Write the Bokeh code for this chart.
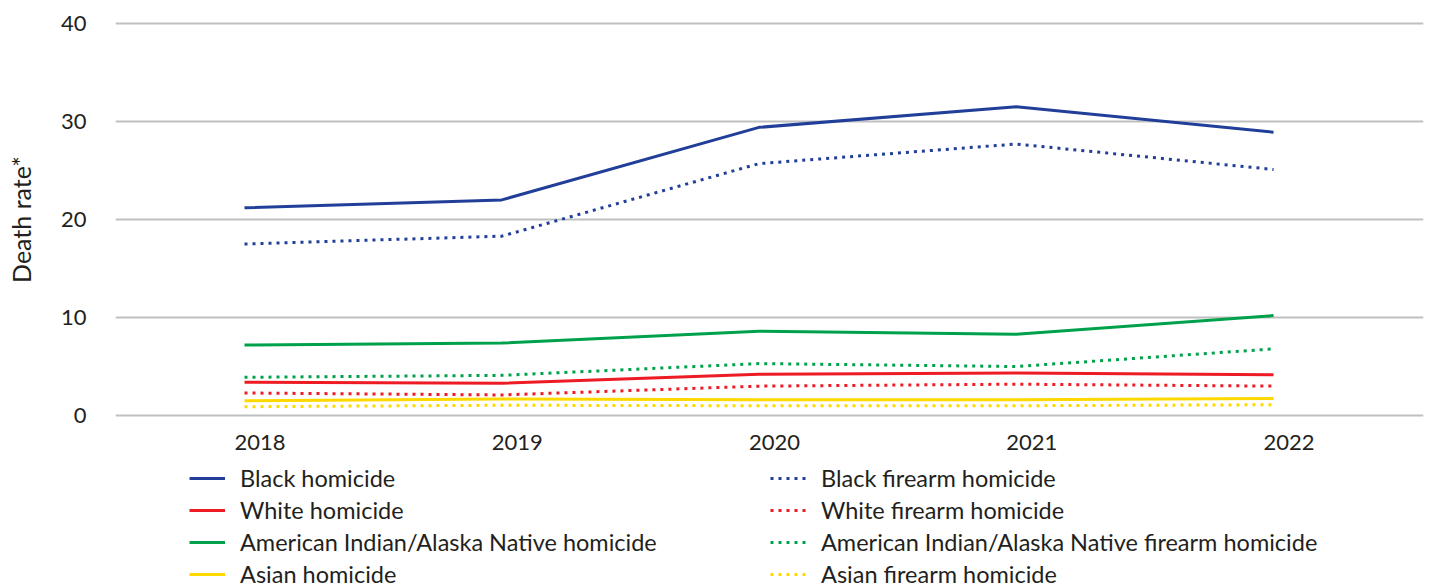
from bokeh.plotting import figure
from bokeh.models import Range1d, FixedTicker, Legend, LegendItem
from bokeh.layouts import column
from bokeh.embed import file_html
from bokeh.resources import INLINE

years = [2018, 2019, 2020, 2021, 2022]
year_labels = ["2018", "2019", "2020", "2021", "2022"]

black_homicide = [21.2, 22.0, 29.4, 31.5, 28.9]
black_firearm = [17.5, 18.3, 25.7, 27.7, 25.1]
white_homicide = [3.4, 3.3, 4.2, 4.35, 4.15]
white_firearm = [2.3, 2.1, 3.0, 3.2, 3.0]
aian_homicide = [7.2, 7.4, 8.6, 8.3, 10.2]
aian_firearm = [3.9, 4.1, 5.3, 5.0, 6.8]
asian_homicide = [1.5, 1.7, 1.6, 1.6, 1.75]
asian_firearm = [0.9, 1.05, 1.0, 1.0, 1.1]

BLUE = "#213F99"
RED = "#ED1C24"
GREEN = "#00A14B"
YELLOW = "#FFD800"
TEXT = "#231F20"
FONT = "Lato"

series = [
    ("Black homicide", black_homicide, BLUE, "solid"),
    ("White homicide", white_homicide, RED, "solid"),
    ("American Indian/Alaska Native homicide", aian_homicide, GREEN, "solid"),
    ("Asian homicide", asian_homicide, YELLOW, "solid"),
    ("Black firearm homicide", black_firearm, BLUE, "3 5"),
    ("White firearm homicide", white_firearm, RED, "3 5"),
    ("American Indian/Alaska Native firearm homicide", aian_firearm, GREEN, "3 5"),
    ("Asian firearm homicide", asian_firearm, YELLOW, "3 5"),
]

# ---- main chart ----
p = figure(width=1430, height=460, output_backend="svg", toolbar_location=None,
           x_range=Range1d(2017.4985, 2022.583), y_range=Range1d(-0.2, 40.2),
           min_border_left=115, min_border_right=7, min_border_top=21, min_border_bottom=43)
p.outline_line_color = None
p.background_fill_color = "white"
p.border_fill_color = "white"

p.xgrid.visible = False
p.ygrid.ticker = FixedTicker(ticks=[0, 10, 20, 30, 40])
p.ygrid.grid_line_color = "#BFBFBF"
p.ygrid.grid_line_width = 2

offset = 0.06
xt = [y + offset for y in years]
p.xaxis.ticker = FixedTicker(ticks=xt)
p.xaxis.major_label_overrides = {t: lab for t, lab in zip(xt, year_labels)}
p.xaxis.axis_line_color = None
p.xaxis.major_tick_line_color = None
p.xaxis.minor_tick_line_color = None
p.xaxis.major_label_standoff = 11
p.xaxis.major_label_text_font = FONT
p.xaxis.major_label_text_font_size = "22px"
p.xaxis.major_label_text_color = TEXT

p.yaxis.ticker = FixedTicker(ticks=[0, 10, 20, 30, 40])
p.yaxis.axis_line_color = None
p.yaxis.major_tick_line_color = None
p.yaxis.minor_tick_line_color = None
p.yaxis.major_label_standoff = 23
p.yaxis.major_label_text_font = FONT
p.yaxis.major_label_text_font_size = "22px"
p.yaxis.major_label_text_color = TEXT
p.yaxis.axis_label = "Death rate*"
p.yaxis.axis_label_standoff = 22
p.yaxis.axis_label_text_font = FONT
p.yaxis.axis_label_text_font_size = "25px"
p.yaxis.axis_label_text_font_style = "normal"
p.yaxis.axis_label_text_color = TEXT

for name, vals, color, dash in series:
    p.line(years, vals, line_color=color, line_width=3, line_dash=dash,
           line_cap="butt", line_join="round")

# ---- legend strip (same series, drawn off-view so only the legend shows) ----
q = figure(width=1430, height=128, output_backend="svg", toolbar_location=None,
           x_range=Range1d(0, 1), y_range=Range1d(0, 1), min_border=0)
q.outline_line_color = None
q.axis.visible = False
q.grid.visible = False
items = []
for name, vals, color, dash in series:
    r = q.line(years, vals, line_color=color, line_width=3, line_dash=dash, line_cap="butt")
    items.append(LegendItem(label=name, renderers=[r]))

legend = Legend(items=items, location=(74, 0), orientation="vertical", nrows=4,
                background_fill_alpha=0, border_line_color=None,
                padding=0, margin=0, spacing=4,
                glyph_width=36, glyph_height=14, label_standoff=15,
                label_width=526, label_height=14,
                label_text_font=FONT, label_text_font_size="23.5px",
                label_text_color=TEXT)
q.add_layout(legend)

open("out.html", "w").write(file_html(column(p, q, spacing=0), INLINE))
